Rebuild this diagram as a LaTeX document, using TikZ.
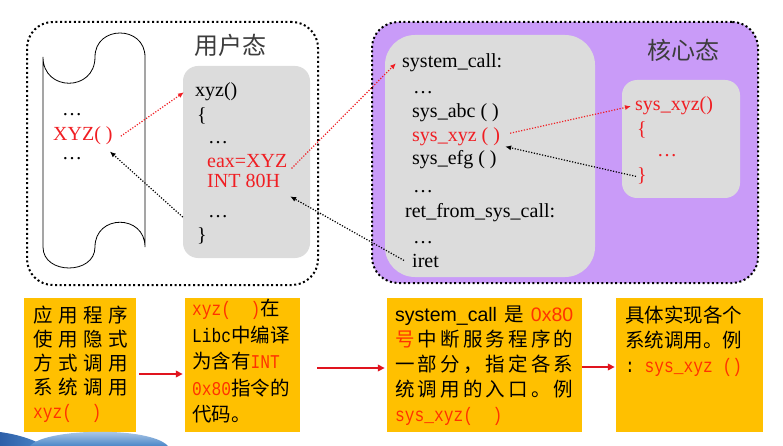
\documentclass[tikz,border=0pt]{standalone}
\usepackage{fontspec}
\setmainfont{Liberation Serif}
\setsansfont{Liberation Sans}
\setmonofont[FakeStretch=0.833]{Liberation Mono}
\newfontfamily\cjk{Noto Sans CJK SC}
\usetikzlibrary{calc}
\usetikzlibrary{arrows.meta}
\definecolor{BLACK}{HTML}{000000}
\definecolor{RED}{HTML}{F01E23}
\definecolor{ORANGERED}{HTML}{FF3300}
\definecolor{ARROWRED}{HTML}{E0141E}
\definecolor{GRAY}{HTML}{DCDCDC}
\definecolor{PURPLE}{HTML}{C99BF8}
\definecolor{ORANGE}{HTML}{FFC000}
\definecolor{TITLEGRAY}{HTML}{3C3C3C}
\definecolor{SKY}{HTML}{4A86C8}
\definecolor{SKYDARK}{HTML}{2D5FA8}
\newcommand\spread[2]{\makebox[#1][s]{#2}}

\tikzset{
    region/.style={draw=BLACK, line width=2pt, dash pattern=on 2pt off 2.6pt, rounded corners=26pt, inner sep=0pt},
    panel/.style={fill=GRAY, rounded corners=15pt, inner sep=0pt},
    code/.style={anchor=base west, inner sep=0pt, font=\fontsize{20}{24}\selectfont},
    statelabel/.style={text=TITLEGRAY, inner sep=0pt, font=\cjk\fontsize{24}{24}\selectfont},
    call/.style={RED, line width=1.2pt, dash pattern=on 1.2pt off 1.6pt, -{Latex[length=6pt,width=5pt]}},
    back/.style={BLACK, line width=1.2pt, dash pattern=on 1.2pt off 1.6pt, -{Latex[length=6pt,width=5pt]}},
    note/.style={fill=ORANGE, inner sep=0pt, minimum height=134pt},
    notetext/.style={anchor=north west, inner sep=0pt, align=left, font=\cjk\fontsize{19.5}{25}\selectfont},
    flow/.style={ARROWRED, line width=2.2pt, -{Triangle[length=7pt,width=6.5pt]}}
}

\begin{document}
\begin{tikzpicture}[x=1pt, y=-1pt]
    \useasboundingbox (0,0) rectangle (783,446);

    \node[region, minimum width=291pt, minimum height=263pt] (user) at (172.5,153.5) {};
    \node[region, fill=PURPLE, minimum width=386pt, minimum height=261pt] (kernel) at (565,152.5) {};
    \node[panel, minimum width=127pt, minimum height=192pt] (ubox) at (246.5,162) {};
    \node[panel, rounded corners=30pt, minimum width=210pt, minimum height=242pt] (kbox) at (490,156) {};
    \node[panel, minimum width=118pt, minimum height=118pt] (kfunc) at (681,139) {};
    \node[statelabel] (utitle) at (230,45) {用户态};
    \node[statelabel] (ktitle) at (683,50) {核心态};

    \draw[BLACK, line width=0.8pt] (43,57) .. controls (43,92) and (95,92) .. (95,57)
        .. controls (95,25) and (145,25) .. (145,57) -- (145,247)
        .. controls (145,214) and (95,214) .. (95,247)
        .. controls (95,275) and (43,275) .. (43,247) -- cycle;
    \node[code] (sdots1) at (62,116) {…};
    \node[code, text=RED] (XYZ) at (53,141) {XYZ( )};
    \node[code] (sdots2) at (62,160) {…};

    \node[code] (uhead) at (195,97) {xyz()};
    \node[code] (uopen) at (197,122) {\{};
    \node[code] (udots1) at (208,144) {…};
    \node[code, text=RED] (ueax) at (207,168) {eax=XYZ};
    \node[code, text=RED] (uint) at (207,188) {INT 80H};
    \node[code] (udots2) at (208,218) {…};
    \node[code] (uclose) at (197,241) {\}};

    \node[code] (kentry) at (402,68) {system\_call:};
    \node[code] (kdots1) at (413,94) {…};
    \node[code] (kabc) at (412,118) {sys\_abc ( )};
    \node[code, text=RED] (kxyz) at (412,142) {sys\_xyz ( )};
    \node[code] (kefg) at (412,165) {sys\_efg ( )};
    \node[code] (kdots2) at (413,193) {…};
    \node[code] (kret) at (405,217) {ret\_from\_sys\_call:};
    \node[code] (kdots3) at (413,243) {…};
    \node[code] (kiret) at (412,267) {iret};

    \node[code, text=RED] (fhead) at (635,111) {sys\_xyz()};
    \node[code, text=RED] (fopen) at (637,136) {\{};
    \node[code, text=RED] (fdots) at (657,157) {…};
    \node[code, text=RED] (fclose) at (637,182) {\}};

    \draw[call] (XYZ.east) ++(8pt,0) -- ([xshift=-11pt]uhead.west);
    \draw[back] (ubox.west |- udots2) -- ([shift={(-3pt,-6pt)}]XYZ.south east);
    \draw[call] ([xshift=4pt]ueax.south east) -- ([xshift=-6pt]kentry.west);
    \draw[back] ([xshift=-8pt]kiret.west) -- ([shift={(10pt,-8pt)}]uint.south east);
    \draw[call] ([shift={(10pt,4pt)}]kxyz.east) -- ([xshift=-4pt]fhead.west);
    \draw[back] ([xshift=-1pt]fclose.west) -- ([shift={(5pt,0pt)}]kxyz.south east);

    \node[note, minimum width=112pt] (n1) at (80,365) {};
    \node[note, minimum width=115pt] (n2) at (242.5,365) {};
    \node[note, minimum width=195pt] (n3) at (484.5,365) {};
    \node[note, minimum width=147pt] (n4) at (689.5,365) {};

    \node[notetext, font=\cjk\fontsize{19.5}{24}\selectfont] (t1) at (33,306) {\spread{95pt}{应 用 程 序}\\
        \spread{95pt}{使 用 隐 式}\\
        \spread{95pt}{方 式 调 用}\\
        \spread{95pt}{系 统 调 用}\\
        {\ttfamily\color{ORANGERED}xyz(\ \ )}};
    \node[notetext, font=\cjk\fontsize{19.5}{26.5}\selectfont] (t2) at (192,299) {{\ttfamily\color{ORANGERED}xyz(\ \ )}在\\
        {\ttfamily Libc}中编译\\
        为含有{\ttfamily\color{ORANGERED}INT}\\
        {\ttfamily\color{ORANGERED}0x80}指令的\\
        代码。};
    \node[notetext] (t3) at (395,306) {\spread{178pt}{{\sffamily system\_call} 是 {\sffamily\color{ORANGERED}0x80}}\\
        \spread{178pt}{{\color{ORANGERED}号} 中 断 服 务 程 序 的}\\
        \spread{178pt}{一 部 分 ， 指 定 各 系}\\
        \spread{178pt}{统 调 用 的 入 口 。 例}\\
        {\ttfamily\color{ORANGERED}sys\_xyz(\ \ )}};
    \node[notetext] (t4) at (625,306) {具体实现各个\\
        系统调用。例\\
        {\ttfamily :\ {\color{ORANGERED}sys\_xyz\ ()}}};

    \draw[flow] ([shift={(3pt,-9pt)}]n1.east) -- ([shift={(-2pt,-9pt)}]n2.west);
    \draw[flow] ([shift={(17pt,-3pt)}]n2.east) -- ([shift={(-2pt,-3pt)}]n3.west);
    \draw[flow] ([yshift=-2pt]n3.east) -- ([shift={(-1pt,-2pt)}]n4.west);

    \shade[left color=SKYDARK, right color=SKY] (0,432) .. controls (15,434) and (30,438) .. (45,446) -- (0,446) -- cycle;
    \shade[top color=SKY!25, bottom color=SKY] (30,446) .. controls (45,428) and (150,426) .. (168,446) -- cycle;
\end{tikzpicture}
\end{document}
